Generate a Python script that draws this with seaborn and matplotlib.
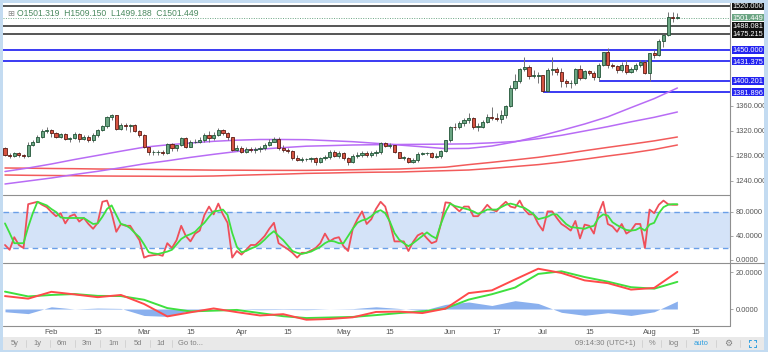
import matplotlib
matplotlib.use("Agg")
import matplotlib.pyplot as plt
import matplotlib.transforms as mtransforms
from matplotlib.lines import Line2D
from matplotlib.patches import Rectangle
import numpy as np
import pandas as pd
import seaborn as sns

# 日线 XAU/USD，第一根 K 线 2019-01-18
first_day = "2019-01-18"

opens = [1292, 1282, 1280, 1284, 1282, 1280, 1298, 1303, 1311, 1320,
         1321, 1317, 1311, 1315, 1307, 1309, 1315, 1307, 1311, 1306,
         1313, 1322, 1328, 1342, 1345, 1323, 1329, 1328, 1329, 1320,
         1313, 1294, 1286, 1286, 1287, 1285, 1299, 1292, 1297, 1309,
         1295, 1302, 1303, 1306, 1313, 1309, 1313, 1322, 1316, 1310,
         1290, 1292, 1287, 1291, 1290, 1291, 1292, 1298, 1303, 1307,
         1292, 1290, 1288, 1276, 1274, 1275, 1275, 1277, 1271, 1276,
         1278, 1287, 1280, 1284, 1276, 1271, 1280, 1282, 1285, 1281,
         1285, 1286, 1300, 1296, 1297, 1286, 1277, 1277, 1270, 1274,
         1283, 1284, 1284, 1279, 1280, 1288, 1305, 1327, 1326, 1333,
         1337, 1341, 1327, 1327, 1334, 1342, 1341, 1339, 1346, 1360,
         1388, 1400, 1419, 1422, 1408, 1408, 1409, 1384, 1418, 1419,
         1415, 1400, 1396, 1397, 1419, 1405, 1416, 1413, 1406, 1426,
         1446, 1426, 1424, 1418, 1426, 1415, 1419, 1426, 1430, 1413,
         1445, 1441, 1464, 1474, 1502, 1501.319]
highs = [1294, 1284, 1286, 1286, 1283, 1302, 1305, 1313, 1323, 1326,
         1323, 1319, 1317, 1316, 1311, 1318, 1316, 1314, 1314, 1316,
         1323, 1330, 1344, 1347, 1346, 1332, 1333, 1331, 1331, 1321,
         1315, 1295, 1290, 1289, 1290, 1301, 1300, 1298, 1311, 1310,
         1305, 1307, 1310, 1316, 1320, 1319, 1324, 1323, 1318, 1311,
         1298, 1296, 1294, 1295, 1294, 1296, 1301, 1307, 1310, 1310,
         1297, 1292, 1289, 1281, 1278, 1277, 1279, 1278, 1278, 1281,
         1289, 1289, 1288, 1286, 1279, 1283, 1286, 1288, 1288, 1288,
         1289, 1302, 1302, 1301, 1298, 1287, 1280, 1278, 1276, 1286,
         1287, 1286, 1286, 1284, 1290, 1306, 1328, 1332, 1336, 1341,
         1348, 1342, 1333, 1337, 1347, 1358, 1348, 1353, 1361, 1393,
         1411, 1420, 1439, 1425, 1418, 1414, 1410, 1420, 1438, 1422,
         1420, 1403, 1402, 1420, 1426, 1418, 1418, 1416, 1428, 1447,
         1452, 1429, 1426, 1430, 1433, 1423, 1428, 1434, 1434, 1445,
         1449, 1467, 1475, 1510, 1510, 1509.150]
lows = [1280, 1277, 1278, 1278, 1276, 1278, 1296, 1302, 1309, 1316,
        1310, 1308, 1309, 1305, 1302, 1307, 1302, 1306, 1303, 1302,
        1311, 1320, 1325, 1337, 1321, 1322, 1321, 1319, 1318, 1311,
        1292, 1282, 1281, 1281, 1281, 1283, 1288, 1288, 1296, 1293,
        1294, 1300, 1301, 1302, 1303, 1305, 1312, 1314, 1306, 1288,
        1288, 1284, 1285, 1286, 1285, 1287, 1289, 1296, 1302, 1290,
        1286, 1285, 1273, 1272, 1271, 1272, 1270, 1266, 1268, 1273,
        1275, 1278, 1277, 1273, 1266, 1268, 1277, 1279, 1278, 1279,
        1280, 1283, 1294, 1292, 1284, 1276, 1273, 1269, 1269, 1271,
        1281, 1282, 1276, 1277, 1277, 1286, 1303, 1321, 1323, 1328,
        1333, 1323, 1320, 1325, 1332, 1337, 1336, 1332, 1340, 1358,
        1386, 1396, 1416, 1403, 1404, 1396, 1381.896, 1382, 1410, 1410,
        1390, 1391, 1388, 1393, 1401, 1403, 1410, 1402, 1400.201, 1424,
        1421, 1421, 1412, 1414, 1411, 1412, 1416, 1423, 1411, 1400,
        1436, 1440, 1455, 1472, 1494, 1499.188]
closes = [1282, 1280, 1284, 1282, 1280, 1298, 1303, 1311, 1320, 1321,
          1317, 1311, 1315, 1307, 1309, 1315, 1307, 1311, 1306, 1313,
          1322, 1328, 1342, 1345, 1323, 1329, 1328, 1329, 1320, 1313,
          1294, 1286, 1286, 1287, 1285, 1299, 1292, 1297, 1309, 1295,
          1302, 1303, 1306, 1313, 1309, 1313, 1322, 1316, 1310, 1290,
          1292, 1287, 1291, 1290, 1291, 1292, 1298, 1303, 1307, 1292,
          1290, 1288, 1276, 1274, 1275, 1275, 1277, 1271, 1276, 1278,
          1287, 1280, 1284, 1276, 1271, 1280, 1282, 1285, 1281, 1285,
          1286, 1300, 1296, 1297, 1286, 1277, 1277, 1270, 1274, 1283,
          1284, 1284, 1279, 1280, 1288, 1305, 1327, 1326, 1333, 1337,
          1341, 1327, 1327, 1334, 1342, 1341, 1339, 1346, 1360, 1388,
          1400, 1419, 1422, 1408, 1408, 1409, 1384, 1418, 1419, 1415,
          1400, 1396, 1397, 1419, 1405, 1416, 1413, 1406, 1426, 1446,
          1426, 1424, 1418, 1426, 1415, 1419, 1426, 1430, 1413, 1445,
          1441, 1464, 1474, 1502, 1501, 1501.449]

# 均线，每 5 根 K 线读一个值
ma_bars = list(range(0, 146, 5))
ma_purple_fast = [1255.2, 1260.8, 1267.2, 1274.4, 1281.0, 1287.7, 1294.1, 1297.8, 1300.8, 1303.5,
                  1305.3, 1306.4, 1306.4, 1306.1, 1304.5, 1302.9, 1300.3, 1297.6, 1294.7, 1291.8,
                  1292.2, 1296.0, 1302.7, 1311.2, 1321.0, 1331.2, 1342.7, 1357.4, 1371.8, 1388.8]
ma_purple_slow = [1235.2, 1240.0, 1244.8, 1250.4, 1255.5, 1261.3, 1267.4, 1272.3, 1277.8, 1282.7,
                  1287.2, 1290.9, 1293.4, 1295.7, 1296.6, 1297.6, 1298.1, 1298.4, 1298.7, 1299.0,
                  1299.5, 1301.1, 1303.2, 1307.7, 1313.1, 1320.0, 1327.0, 1334.7, 1341.9, 1350.4]
ma_red_a = [1260.8, 1260.5, 1260.0, 1259.7, 1259.2, 1258.9, 1258.6, 1258.2, 1257.8, 1257.4,
            1257.3, 1257.1, 1257.0, 1257.0, 1257.4, 1257.9, 1258.6, 1259.2, 1260.6, 1262.1,
            1266.2, 1269.9, 1273.8, 1277.9, 1282.9, 1288.5, 1293.8, 1298.9, 1304.2, 1310.4]
ma_red_b = [1249.6, 1249.1, 1248.8, 1248.5, 1248.0, 1247.8, 1247.7, 1247.5, 1247.5, 1248.0,
            1249.1, 1250.1, 1251.0, 1252.2, 1252.8, 1253.6, 1254.1, 1254.4, 1255.5, 1256.5,
            1257.6, 1260.2, 1263.2, 1266.2, 1270.2, 1274.9, 1280.0, 1284.8, 1290.4, 1297.6]

# 随机指标
stoch_k = [25, 17, 38, 25, 20, 93, 95, 97, 92, 88,
           80, 73, 78, 61, 73, 76, 64, 70, 60, 52,
           62, 97, 99, 78, 47, 60, 57, 57, 45, 33,
           4, 7, 8, 9, 7, 28, 20, 33, 57, 40,
           31, 44, 49, 75, 89, 76, 94, 76, 62, 4,
           15, 9, 17, 25, 25, 32, 40, 52, 62, 28,
           23, 18, 12, 4, 12, 12, 16, 20, 28, 44,
           31, 36, 38, 23, 15, 52, 68, 81, 60, 68,
           85, 97, 89, 62, 31, 31, 31, 15, 30, 41,
           45, 36, 28, 31, 60, 96, 95, 88, 81, 89,
           89, 73, 73, 82, 92, 84, 81, 90, 97, 89,
           87, 99, 84, 76, 76, 60, 49, 81, 81, 70,
           60, 55, 49, 65, 36, 59, 57, 44, 78, 97,
           60, 56, 47, 60, 44, 49, 60, 60, 20, 84,
           78, 92, 99, 93, 92, 92]
stoch_d = [61, 45, 28, 28, 28, 55, 78, 97, 94, 91,
           85, 80, 71, 70, 70, 70, 70, 70, 65, 60,
           61, 72, 85, 91, 75, 60, 58, 53, 45, 38,
           26, 13, 11, 10, 12, 14, 17, 26, 35, 40,
           43, 47, 55, 62, 72, 81, 82, 84, 75, 45,
           22, 13, 15, 19, 22, 27, 34, 42, 48, 40,
           33, 24, 15, 12, 10, 12, 14, 18, 22, 28,
           32, 31, 28, 28, 40, 52, 62, 66, 68, 73,
           80, 83, 78, 64, 45, 34, 28, 23, 28, 34,
           40, 46, 40, 36, 60, 80, 94, 90, 88, 86,
           84, 81, 77, 80, 84, 84, 84, 88, 92, 94,
           92, 89, 87, 82, 76, 68, 70, 72, 76, 76,
           68, 60, 55, 54, 53, 52, 55, 57, 70, 76,
           74, 63, 58, 54, 50, 49, 50, 54, 49, 59,
           62, 78, 88, 92, 93, 93]

# MACD，同样每 5 根读一个值
macd_line = [7.0, 5.6, 9.3, 7.9, 6.4, 7.6, 2.7, -4.0, -1.8, 0.3,
             -1.7, -3.5, -2.8, -5.8, -5.4, -4.5, -1.6, -1.4, -2.2, 0.2,
             8.6, 10.1, 16.0, 21.8, 19.5, 15.5, 14.0, 10.5, 11.4, 20.1]
macd_signal = [9.4, 6.8, 7.6, 8.1, 7.1, 7.0, 5.0, 0.5, -1.3, -0.9,
               -0.5, -2.2, -3.9, -4.9, -4.6, -4.3, -3.3, -2.2, -1.3, 0.3,
               5.1, 8.0, 11.6, 19.0, 20.4, 17.3, 14.8, 11.8, 11.0, 14.7]
macd_hist = [-1.5, -2.5, 1.2, 0.0, 0.5, 0.3, -3.5, -4.0, -0.8, 0.0,
             0.0, -0.4, -0.2, -0.4, 0.0, 0.2, 1.2, 0.3, -0.8, 2.5,
             3.8, 1.9, 4.5, 3.0, -1.8, -3.4, -2.0, -3.5, -1.5, 4.3]

# 水平线
gray_levels = [1520.0, 1488.081, 1475.215]
blue_levels = [1450.0, 1431.375]
ray_levels = [1400.201, 1381.896]
ray_starts = ["2019-07-17", "2019-07-01"]
last_price = 1501.449
ohlc_text = "O1501.319  H1509.150  L1499.188  C1501.449"

tick_dates = ["2019-02-01", "2019-02-15", "2019-03-01", "2019-03-15", "2019-04-01",
              "2019-04-15", "2019-05-01", "2019-05-15", "2019-06-03", "2019-06-17",
              "2019-07-01", "2019-07-15", "2019-08-01", "2019-08-15"]
tick_labels = ["Feb", "15", "Mar", "15", "Apr", "15", "May", "15", "Jun", "17",
               "Jul", "15", "Aug", "15"]

# ---------------------------------------------------------------
sns.set_theme(style="white")
plt.rcParams["font.family"] = ["Liberation Sans", "DejaVu Sans"]

W, H = 768, 352
fig = plt.figure(figsize=(W / 100, H / 100), dpi=100)
fig.patch.set_facecolor("white")


def fx(px):
    return px / W


def fy(py):
    return 1 - py / H


def pane(top, bottom):
    return fig.add_axes([fx(3), fy(bottom), fx(730) - fx(3), fy(top) - fy(bottom)])


ax_p = pane(3, 195)
ax_s = pane(195, 263)
ax_m = pane(263, 326)

axis_dates = pd.bdate_range(first_day, periods=170)
bars = np.arange(len(closes))
xlim = (-0.43, 156.35)
p_lim = (1217.6, 1524.8)

GRAY_TXT = "#555555"
for ax in (ax_p, ax_s, ax_m):
    ax.set_xlim(*xlim)
    for s in ax.spines.values():
        s.set_visible(False)
    ax.yaxis.tick_right()
    ax.tick_params(axis="y", direction="out", length=2.5, width=0.6, colors="#999999",
                   labelcolor=GRAY_TXT, labelsize=5.4, pad=1.5)
    ax.tick_params(axis="x", bottom=False, labelbottom=False)
    ax.set_xlabel("")
    ax.set_ylabel("")

# ---- 价格区 ----
ax_p.set_ylim(*p_lim)
o = np.array(opens); h = np.array(highs); l = np.array(lows); c = np.array(closes)
up = c >= o
face = np.where(up, "#6ba583", "#d75442")
edge = np.where(up, "#225437", "#5b1a13")

for lvl in gray_levels:
    ax_p.axhline(lvl, color="#555555", lw=1.4, zorder=2)
for lvl in blue_levels:
    ax_p.axhline(lvl, color="#2b2bf2", lw=1.3, zorder=2)
for lvl, d in zip(ray_levels, ray_starts):
    start = axis_dates.get_loc(pd.Timestamp(d))
    ax_p.hlines(lvl, start, xlim[1], color="#2b2bf2", lw=1.3, zorder=2)
ax_p.axhline(last_price, color="#6ba583", lw=0.7, ls=(0, (1, 1.5)), zorder=2)

sns.lineplot(x=ma_bars, y=ma_red_a, ax=ax_p, color="#f25b5b", linewidth=1.1, zorder=2)
sns.lineplot(x=ma_bars, y=ma_red_b, ax=ax_p, color="#f25b5b", linewidth=1.1, zorder=2)
sns.lineplot(x=ma_bars, y=ma_purple_slow, ax=ax_p, color="#b86cf5", linewidth=1.1, zorder=2)
sns.lineplot(x=ma_bars, y=ma_purple_fast, ax=ax_p, color="#b86cf5", linewidth=1.1, zorder=2)

ax_p.vlines(bars, l, h, colors="#737375", linewidth=0.7, zorder=3)
ax_p.bar(bars, np.maximum(np.abs(c - o), 0.8), bottom=np.minimum(o, c), width=0.68,
         color=face, edgecolor=edge, linewidth=0.6, zorder=4)

ax_p.set_yticks([1240, 1280, 1320, 1360])
ax_p.set_yticklabels([f"{v:.3f}" for v in [1240, 1280, 1320, 1360]])
ax_p.set_xlim(*xlim)
ax_p.set_xlabel(""); ax_p.set_ylabel("")

# 右侧价格标签
units_per_px = (p_lim[1] - p_lim[0]) / (195 - 3)
box_h = 7.8 * units_per_px
bx0 = (732 - 3) / 727
bw = 32 / 727
trans_p = mtransforms.blended_transform_factory(ax_p.transAxes, ax_p.transData)


def price_tag(value, color):
    ax_p.add_patch(Rectangle((bx0, value - box_h / 2), bw, box_h, transform=trans_p,
                             facecolor=color, edgecolor="none", clip_on=False, zorder=6))
    ax_p.text(bx0 + bw / 2, value, f"{value:.3f}", transform=trans_p, ha="center",
              va="center_baseline", color="white", fontsize=5.3, clip_on=False, zorder=7)


for lvl in gray_levels:
    price_tag(lvl, "#111111")
for lvl in blue_levels + ray_levels:
    price_tag(lvl, "#2424f0")
price_tag(last_price, "#6ba583")

# ---- 随机指标区 ----
ax_s.set_ylim(-5, 108.3)
ax_s.axhspan(20, 80, color="#d4e3f8", lw=0, zorder=0)
for lvl in (20, 80):
    ax_s.axhline(lvl, color="#6a9fe8", lw=1.0, ls=(0, (4, 3)), zorder=1)
sns.lineplot(x=bars, y=stoch_k, ax=ax_s, color="#ef4f5a", linewidth=1.3, zorder=3)
sns.lineplot(x=bars, y=stoch_d, ax=ax_s, color="#3fe03f", linewidth=1.3, zorder=3)
ax_s.set_yticks([0, 40, 80])
ax_s.set_yticklabels([f"{v:.4f}" for v in [0, 40, 80]])
ax_s.set_xlim(*xlim)
ax_s.set_xlabel(""); ax_s.set_ylabel("")
ax_s.tick_params(axis="x", bottom=False, labelbottom=False)

# ---- MACD 区 ----
ax_m.set_ylim(-9.2, 24.9)
ax_m.fill_between(ma_bars, 0, macd_hist, color="#8ab0ee", lw=0, zorder=1)
sns.lineplot(x=ma_bars, y=macd_signal, ax=ax_m, color="#3fe03f", linewidth=1.4, zorder=3)
sns.lineplot(x=ma_bars, y=macd_line, ax=ax_m, color="#ff4a4a", linewidth=1.4, zorder=3)
ax_m.set_yticks([0, 20])
ax_m.set_yticklabels([f"{v:.4f}" for v in [0, 20]])
tick_pos = axis_dates.get_indexer(pd.to_datetime(tick_dates))
ax_m.set_xticks(tick_pos)
ax_m.set_xticklabels(tick_labels)
ax_m.tick_params(axis="x", bottom=True, labelbottom=True, length=0, labelsize=5.6,
                 labelcolor=GRAY_TXT, pad=2.5)
ax_m.set_xlim(*xlim)
ax_m.set_xlabel(""); ax_m.set_ylabel("")

# ---- 分隔线 / 边框 / 工具栏 ----
def fline(x0, y0, x1, y1, color="#8f8f8f", lw=0.8):
    fig.add_artist(Line2D([fx(x0), fx(x1)], [fy(y0), fy(y1)], color=color, lw=lw,
                          transform=fig.transFigure))


fline(730, 3, 730, 326)
fline(3, 195, 730, 195)
fline(3, 263, 764, 263)
fline(3, 326, 730, 326)


def frect(x0, y0, x1, y1, color):
    fig.add_artist(Rectangle((fx(x0), fy(y1)), fx(x1) - fx(x0), fy(y0) - fy(y1),
                             facecolor=color, edgecolor="none", transform=fig.transFigure))


frect(3, 337, 764, 350, "#e9e9e9")
frame = "#c3dbf1"
frect(0, 0, 3, H, frame)
frect(0, 0, W, 2.5, frame)
frect(764, 0, W, H, frame)
frect(0, 350, W, H, frame)

# 左上 OHLC
fig.text(fx(7), fy(14), "⊞", fontsize=6, color="#8a8a8a", ha="left", va="center",
         family=["DejaVu Sans"])
fig.text(fx(17), fy(14), ohlc_text, fontsize=6.2, color="#4b8a60", ha="left", va="center")

# 工具栏文字
bar_y = fy(343.5)
left_items = [("5y", 14.7), ("1y", 37.7), ("6m", 62.3), ("3m", 87.3), ("1m", 113.2),
              ("5d", 137.7), ("1d", 160.8), ("Go to...", 191)]
for txt, px in left_items:
    fig.text(fx(px), bar_y, txt, fontsize=5.4, color="#808080", ha="center", va="center")
for px in [25.5, 50, 74.5, 99.5, 125, 149.5, 171.6]:
    fline(px, 340, px, 347, color="#cfcfcf", lw=0.6)
right_items = [("09:14:30 (UTC+1)", 605, "#808080"), ("%", 651.7, "#808080"),
               ("log", 674, "#808080"), ("auto", 701.3, "#2f9fe0")]
for txt, px, col in right_items:
    fig.text(fx(px), bar_y, txt, fontsize=5.4, color=col, ha="center", va="center")
fig.text(fx(728.3), bar_y, "⚙", fontsize=6.5, color="#808080", ha="center", va="center",
         family=["DejaVu Sans"])
for px in [642, 660.7, 685.7, 715.7, 740]:
    fline(px, 340, px, 347, color="#cfcfcf", lw=0.6)
# 全屏图标
cx, cy, s, k = 752.3, 343.5, 3.2, 1.6
for sx in (-1, 1):
    for sy in (-1, 1):
        fline(cx + sx * s, cy + sy * s, cx + sx * (s - k), cy + sy * s, color="#2f9fe0", lw=0.7)
        fline(cx + sx * s, cy + sy * s, cx + sx * s, cy + sy * (s - k), color="#2f9fe0", lw=0.7)

fig.savefig("out.png", dpi=100, facecolor="white")
